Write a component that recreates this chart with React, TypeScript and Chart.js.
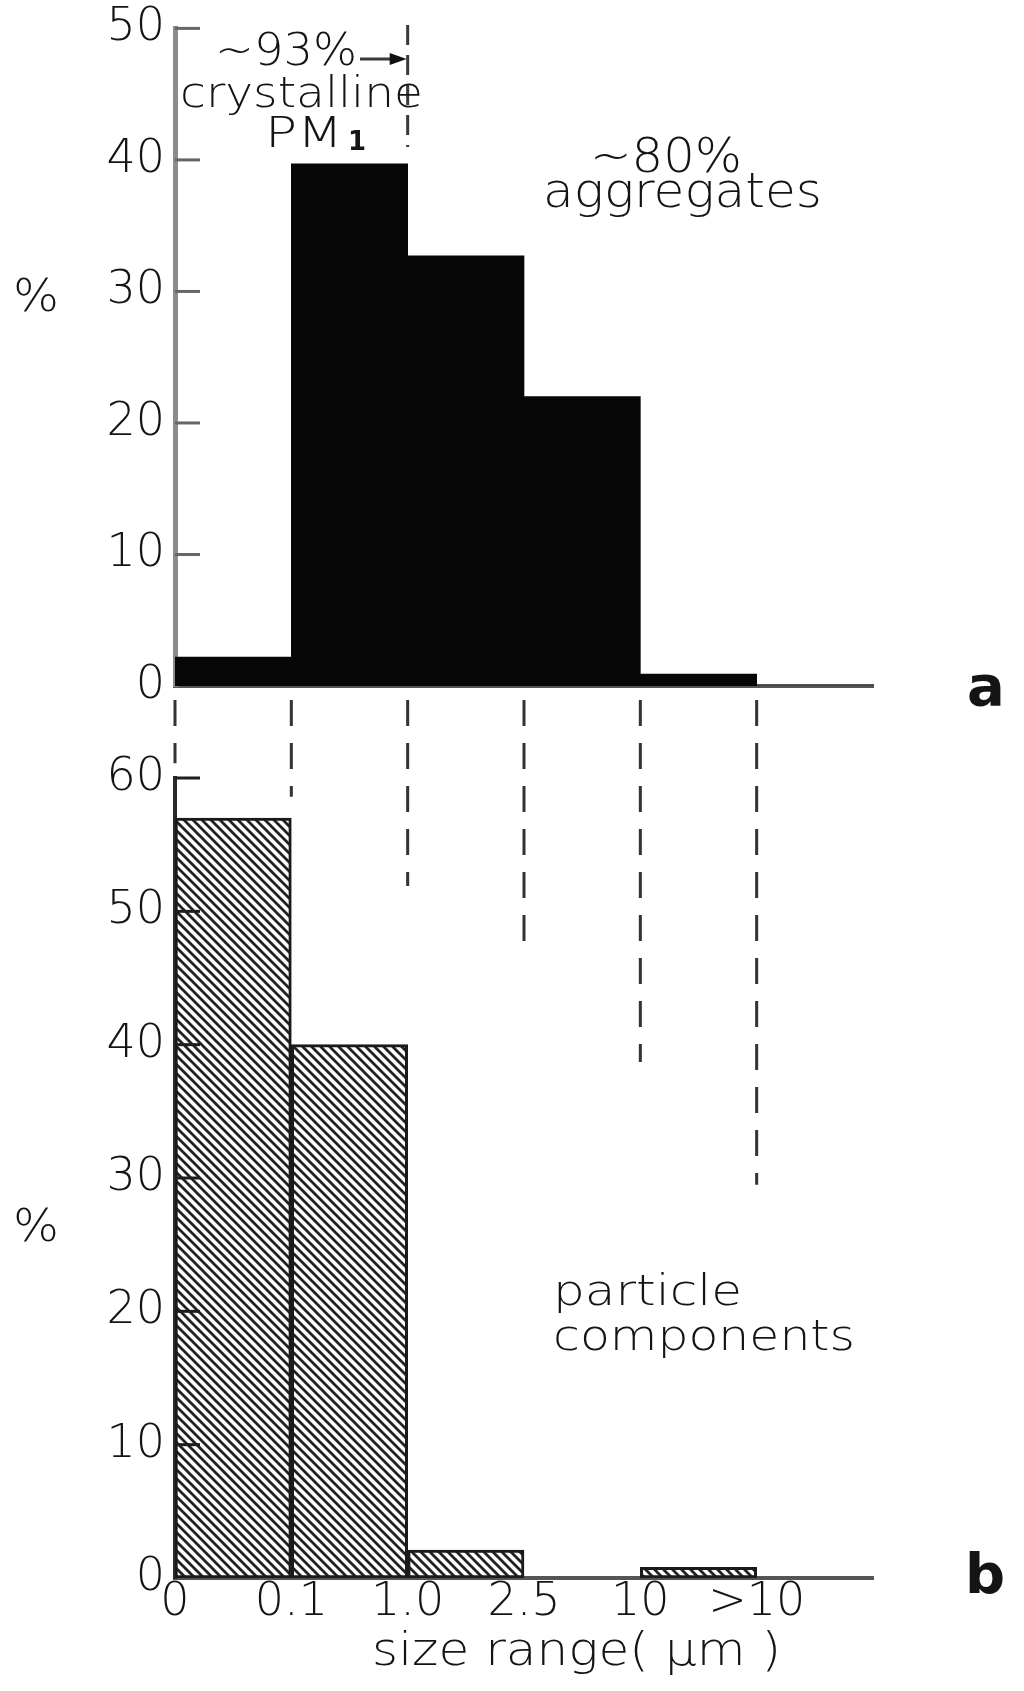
import React, { useEffect, useRef } from "react";
import { Chart, registerables } from "chart.js";

Chart.register(...registerables);

// ---- data ----
const edgeLabels = ["0", "0.1", "1.0", "2.5", "10", ">10"];
const binCenters = [0.5, 1.5, 2.5, 3.5, 4.5, 5.5];
const massShareA = [2.2, 39.7, 32.7, 22.0, 0.9, 0];
const componentShareB = [57, 40, 2.1, 0, 0.8, 0];
const yTicksA = [0, 10, 20, 30, 40, 50];
const yTicksB = [0, 10, 20, 30, 40, 50, 60];
// where the dashed guide lines (one per bin edge) stop, in units of chart b's y axis
const guideEnds = [61.1, 58.6, 51.9, 47.1, 38.7, 29.5];

const FONT = "DejaVu Sans";
const W = "200";
const INK = "#141414";

function drawText(
  ctx: CanvasRenderingContext2D,
  text: string,
  left: number,
  baseline: number,
  font: string,
  width?: number
) {
  ctx.save();
  ctx.font = font;
  ctx.fillStyle = INK;
  ctx.textAlign = "left";
  ctx.textBaseline = "alphabetic";
  const w = ctx.measureText(text).width;
  const sx = width ? width / w : 1;
  ctx.translate(left, baseline);
  ctx.scale(sx, 1);
  ctx.fillText(text, 0, 0);
  ctx.restore();
}

function innerTicks(chart: any, color: string, width: number) {
  const ctx = chart.ctx as CanvasRenderingContext2D;
  const y = chart.scales.y;
  const left = chart.chartArea.left;
  ctx.save();
  ctx.strokeStyle = color;
  ctx.lineWidth = width;
  y.ticks.forEach((t: any) => {
    if (t.value === 0) return;
    const py = y.getPixelForValue(t.value);
    ctx.beginPath();
    ctx.moveTo(left, py);
    ctx.lineTo(left + 25, py);
    ctx.stroke();
  });
  ctx.restore();
}

const annoA = {
  id: "annoA",
  afterDraw(chart: any) {
    const ctx = chart.ctx as CanvasRenderingContext2D;
    const x = chart.scales.x;
    innerTicks(chart, "#666", 3);

    // dashed marker at the 1.0 µm edge
    const px = x.getPixelForValue(2);
    ctx.save();
    ctx.strokeStyle = "#3a3a3a";
    ctx.lineWidth = 3;
    ctx.setLineDash([20, 10]);
    ctx.beginPath();
    ctx.moveTo(px, 25);
    ctx.lineTo(px, 147);
    ctx.stroke();
    ctx.setLineDash([]);
    // arrow
    ctx.beginPath();
    ctx.moveTo(360, 59);
    ctx.lineTo(392, 59);
    ctx.stroke();
    ctx.fillStyle = "#111";
    ctx.beginPath();
    ctx.moveTo(px - 1, 59);
    ctx.lineTo(px - 18, 53);
    ctx.lineTo(px - 18, 65);
    ctx.closePath();
    ctx.fill();
    ctx.restore();

    drawText(ctx, "~93%", 215, 65, `${W} 45px "${FONT}"`, 142);
    drawText(ctx, "crystalline", 180, 107, `${W} 42px "${FONT}"`, 243);
    drawText(ctx, "PM", 265, 147, `${W} 42px "${FONT}"`, 78);
    drawText(ctx, "1", 348, 150, `bold 26px "${FONT}"`);
    drawText(ctx, "~80%", 590, 172, `${W} 48px "${FONT}"`, 152);
    drawText(ctx, "aggregates", 543, 207, `${W} 48px "${FONT}"`, 279);
    drawText(ctx, "%", 13, 311, `${W} 44px "${FONT}"`, 46);
    drawText(ctx, "a", 967, 705, `bold 56px "${FONT}"`);
  },
};

const annoB = {
  id: "annoB",
  afterDraw(chart: any) {
    const ctx = chart.ctx as CanvasRenderingContext2D;
    const x = chart.scales.x;
    const y = chart.scales.y;
    innerTicks(chart, "#1e1e1e", 3);

    // dashed guide lines from the edges of chart a
    ctx.save();
    ctx.strokeStyle = "#333";
    ctx.lineWidth = 3;
    ctx.setLineDash([26, 17]);
    guideEnds.forEach((end, i) => {
      const px = x.getPixelForValue(i);
      ctx.beginPath();
      ctx.moveTo(px, 10);
      ctx.lineTo(px, y.getPixelForValue(end));
      ctx.stroke();
    });
    ctx.restore();

    drawText(ctx, "%", 13, 551, `${W} 44px "${FONT}"`, 46);
    drawText(ctx, "particle", 553, 615, `${W} 42px "${FONT}"`, 189);
    drawText(ctx, "components", 553, 660, `${W} 42px "${FONT}"`, 302);
    drawText(ctx, "size range( \u03bcm )", 372, 975, `${W} 46px "${FONT}"`, 409);
    drawText(ctx, "b", 965, 903, `bold 56px "${FONT}"`);
  },
};

function makeHatch(): CanvasPattern | string {
  const c = document.createElement("canvas");
  const s = 9;
  c.width = s;
  c.height = s;
  const g = c.getContext("2d");
  if (!g) return "#888";
  g.fillStyle = "#ffffff";
  g.fillRect(0, 0, s, s);
  g.strokeStyle = "#222";
  g.lineWidth = 2.8;
  g.beginPath();
  g.moveTo(-s, -s);
  g.lineTo(2 * s, 2 * s);
  g.moveTo(-s, 0);
  g.lineTo(s, 2 * s);
  g.moveTo(0, -s);
  g.lineTo(2 * s, s);
  g.stroke();
  return g.createPattern(c, "repeat") || "#888";
}

export default function App() {
  const topRef = useRef<HTMLCanvasElement>(null);
  const botRef = useRef<HTMLCanvasElement>(null);

  useEffect(() => {
    const tickFont = { family: FONT, size: 46, weight: W, lineHeight: 0.8 };

    const chartA = new Chart(topRef.current as HTMLCanvasElement, {
      type: "bar",
      data: {
        datasets: [
          {
            data: binCenters.map((x, i) => ({ x, y: massShareA[i] })),
            backgroundColor: "#070707",
            borderWidth: 0,
            barPercentage: 1,
            categoryPercentage: 1,
          },
        ],
      },
      options: {
        responsive: false,
        animation: false,
        events: [],
        layout: { padding: { top: 23, bottom: 74, left: 0, right: 151 } },
        plugins: { legend: { display: false }, tooltip: { enabled: false } },
        scales: {
          x: {
            type: "linear",
            min: 0,
            max: 6,
            offset: false,
            grid: { display: false, drawTicks: false },
            border: { display: true, color: "#555", width: 4 },
            ticks: { display: false },
            afterFit: (s: any) => {
              s.height = 0;
            },
          },
          y: {
            type: "linear",
            min: yTicksA[0],
            max: yTicksA[yTicksA.length - 1],
            afterBuildTicks: (s: any) => {
              s.ticks = yTicksA.map((v) => ({ value: v }));
            },
            ticks: { padding: 10, color: INK, font: tickFont },
            grid: { display: false, drawTicks: false },
            border: { display: true, color: "#8c8c8c", width: 5 },
            afterFit: (s: any) => {
              s.width = 175;
            },
          },
        },
      } as any,
      plugins: [annoA],
    });

    const hatch = makeHatch();
    const chartB = new Chart(botRef.current as HTMLCanvasElement, {
      type: "bar",
      data: {
        datasets: [
          {
            data: binCenters.map((x, i) => ({ x, y: componentShareB[i] })),
            backgroundColor: hatch as any,
            borderColor: "#1a1a1a",
            borderWidth: 3,
            borderSkipped: false,
            barPercentage: 1,
            categoryPercentage: 1,
          },
        ],
      },
      options: {
        responsive: false,
        animation: false,
        events: [],
        layout: { padding: { top: 88, bottom: 0, left: 0, right: 151 } },
        plugins: { legend: { display: false }, tooltip: { enabled: false } },
        scales: {
          x: {
            type: "linear",
            min: 0,
            max: 6,
            offset: false,
            afterBuildTicks: (s: any) => {
              s.ticks = edgeLabels.map((_, i) => ({ value: i }));
            },
            ticks: {
              autoSkip: false,
              maxRotation: 0,
              padding: 0,
              color: INK,
              font: { family: FONT, size: 46, weight: W, lineHeight: 1.1 },
              callback: (_v: any, i: number) => edgeLabels[i],
            },
            grid: { display: false, drawTicks: false },
            border: { display: true, color: "#555", width: 4 },
            afterFit: (s: any) => {
              s.height = 113;
            },
          },
          y: {
            type: "linear",
            min: yTicksB[0],
            max: yTicksB[yTicksB.length - 1],
            afterBuildTicks: (s: any) => {
              s.ticks = yTicksB.map((v) => ({ value: v }));
            },
            ticks: { padding: 10, color: INK, font: tickFont },
            grid: { display: false, drawTicks: false },
            border: { display: true, color: "#2a2a2a", width: 4 },
            afterFit: (s: any) => {
              s.width = 175;
            },
          },
        },
      } as any,
      plugins: [annoB],
    });

    return () => {
      chartA.destroy();
      chartB.destroy();
    };
  }, []);

  return (
    <div
      style={{
        position: "absolute",
        left: 0,
        top: 0,
        width: 1024,
        height: 1691,
        background: "#ffffff",
        overflow: "hidden",
      }}
    >
      <canvas
        ref={topRef}
        width={1024}
        height={760}
        style={{ position: "absolute", left: 0, top: 0, width: 1024, height: 760 }}
      />
      <canvas
        ref={botRef}
        width={1024}
        height={1001}
        style={{ position: "absolute", left: 0, top: 690, width: 1024, height: 1001 }}
      />
    </div>
  );
}
